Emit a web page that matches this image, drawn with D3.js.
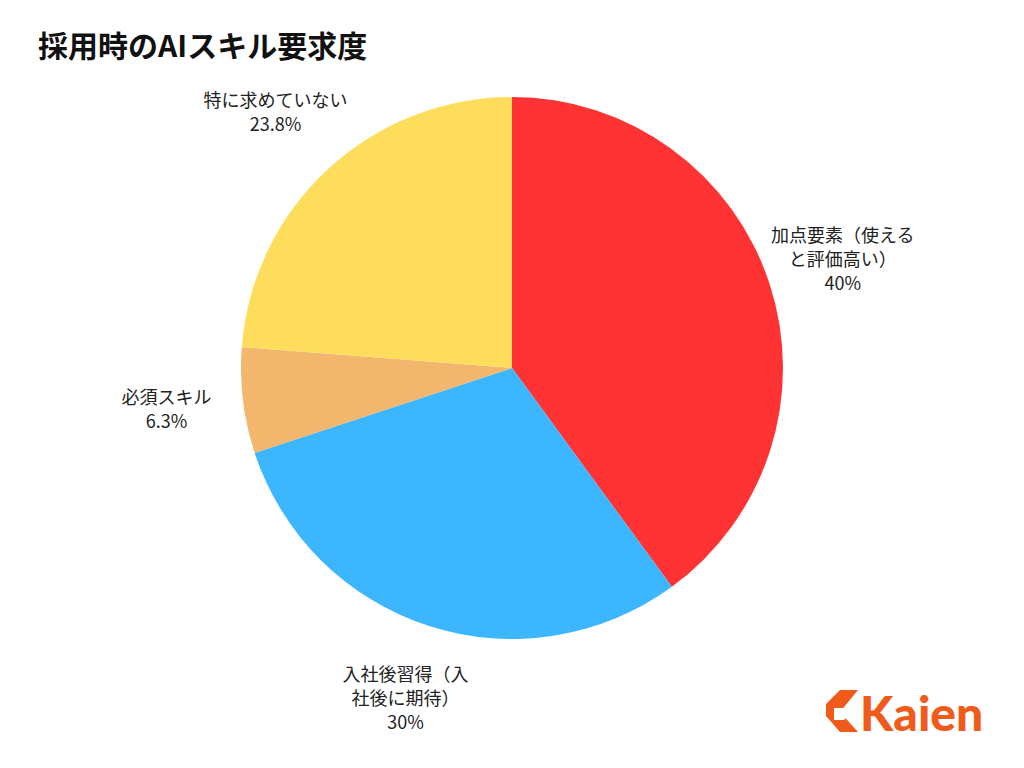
<!DOCTYPE html><html><head><meta charset="utf-8"><script src="https://cdn.jsdelivr.net/npm/d3@7"></script>
<style>body{margin:0;background:#fff}</style></head><body><svg id="c" width="1024" height="768"></svg>
<script>
const categories=[["加点要素（使える","と評価高い）"],["入社後習得（入","社後に期待）"],["必須スキル"],["特に求めていない"]];
const values=[40,30,6.3,23.8];
const valueLabels=["40%","30%","6.3%","23.8%"];
const colors=["#ff3333","#3bb6ff","#f2b66d","#ffdd5c"];
const svg=d3.select("#c");
svg.append("rect").attr("width",1024).attr("height",768).attr("fill","#fff");
svg.append("text").attr("x",38).attr("y",57).attr("font-family","Noto Sans CJK JP").attr("font-weight","bold").attr("font-size",30).attr("fill","#111").text("採用時のAIスキル要求度");
const cx=512,cy=368,R=271;
const pie=d3.pie().sort(null).value(d=>d);
const arcs=pie(values);
const arc=d3.arc().innerRadius(0).outerRadius(R);
const g=svg.append("g").attr("transform",`translate(${cx},${cy})`);
g.selectAll("path").data(arcs).join("path").attr("d",arc).attr("fill",(d,i)=>colors[i]);
const la=d3.arc().innerRadius(348).outerRadius(348);
arcs.forEach((d,i)=>{
  const [x,y]=la.centroid(d);
  const lines=categories[i].concat([valueLabels[i]]);
  const t=g.append("text").attr("text-anchor","middle").attr("font-family","Noto Sans CJK JP").attr("font-size",18).attr("fill","#222");
  const y0=y-(lines.length-1)*24/2+6;
  lines.forEach((l,k)=>t.append("tspan").attr("x",x).attr("y",y0+k*24).text(l));
});
const lg=svg.append("g").attr("transform","translate(826,690)");
lg.append("path").attr("d","M14 0 L32 0 L14 22 L32 42 L14 42 L0 26 L0 14 Z").attr("fill","#f05a1a");
lg.append("path").attr("d","M8 18 L18 18 L24 24 L18 30 L8 30 Z").attr("fill","#fff");
svg.append("text").attr("x",860).attr("y",731).attr("font-family","Lato").attr("font-weight","900").attr("font-size",48).attr("fill","#f05a1a").text("Kaien");
</script></body></html>
